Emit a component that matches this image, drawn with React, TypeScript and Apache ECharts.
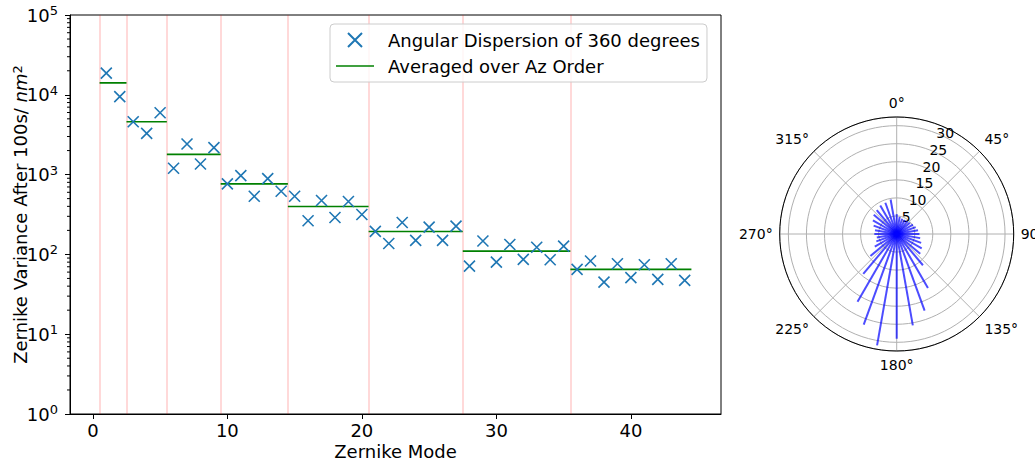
import React, { useEffect, useRef } from 'react';
import * as echarts from 'echarts';

// ---- Main chart data ----
const modes = [1, 2, 3, 4, 5, 6, 7, 8, 9, 10, 11, 12, 13, 14, 15, 16, 17, 18, 19, 20, 21, 22, 23, 24, 25, 26, 27, 28, 29, 30, 31, 32, 33, 34, 35, 36, 37, 38, 39, 40, 41, 42, 43, 44];
const variance = [
  18700, 9500,
  4600, 3280, 5960,
  1200, 2417, 1360, 2176,
  766, 972, 535, 891, 618,
  535, 264, 473, 290, 460, 316,
  194, 137, 251, 150, 220, 150, 226,
  71.4, 147, 80, 133, 86.6, 123, 85.7, 127,
  65, 82.6, 45, 76.4, 51.1, 74.3, 48.7, 76.4, 47.3,
];
const orderBounds = [0.5, 2.5, 5.5, 9.5, 14.5, 20.5, 27.5, 35.5, 44.5];
const orderMeans = [14100, 4600, 1790, 765, 398, 194, 110, 65];
const orderLines = [0.5, 2.5, 5.5, 9.5, 14.5, 20.5, 27.5, 35.5];
const xTicks = [0, 10, 20, 30, 40];
const minorMultipliers = [2, 3, 4, 5, 6, 7, 8, 9];
const decades = [1, 10, 100, 1000, 10000];

// ---- Polar chart data ----
const polarAngles = [0, 10, 20, 30, 40, 50, 60, 70, 80, 90, 100, 110, 120, 130, 140, 150, 160, 170, 180, 190, 200, 210, 220, 230, 240, 250, 260, 270, 280, 290, 300, 310, 320, 330, 340, 350];
const polarValues = [5.5, 4.8, 4.5, 4.5, 4.6, 4.8, 5.2, 5.6, 6.0, 6.3, 6.6, 7.2, 8.0, 8.5, 11.3, 17.3, 22.6, 25.7, 29.0, 31.3, 26.7, 21.7, 14.4, 9.5, 7.0, 6.0, 5.6, 6.2, 6.1, 6.8, 7.6, 8.3, 8.6, 9.1, 9.2, 9.7];
const angleTicks = [0, 45, 90, 135, 180, 225, 270, 315];
const radiusTicks = [5, 10, 15, 20, 25, 30];

const SERIES_A = 'Angular Dispersion of 360 degrees';
const SERIES_B = 'Averaged over Az Order';
const FONT = 'DejaVu Sans';
const FS = 18;
const X_MIN = -1.7;
const X_MAX = 46.7;
const R_MAX = 32.4;

export default function App() {
  const ref = useRef<HTMLDivElement>(null);
  useEffect(() => {
    if (!ref.current) return;
    const chart = echarts.init(ref.current, null, { renderer: 'svg' });

    const scatterData = modes.map((m, i) => [m, variance[i]]);
    const meanData: any[] = [];
    orderMeans.forEach((v, i) => {
      meanData.push([orderBounds[i], v]);
      meanData.push([orderBounds[i + 1], v]);
      meanData.push([orderBounds[i + 1], '-']);
    });
    const minorTicks: number[] = [];
    decades.forEach((d) => minorMultipliers.forEach((m) => minorTicks.push(d * m)));

    const option: any = {
      animation: false,
      textStyle: { fontFamily: FONT },
      grid: {
        left: 70, top: 15, width: 651, height: 399,
        containLabel: false,
        outerBoundsMode: 'none',
        show: true, borderColor: '#000', borderWidth: 1, backgroundColor: 'transparent',
      },
      legend: {
        data: [
          { name: SERIES_A },
          { name: SERIES_B, icon: 'path://M0,0H38V1.6H0Z', itemStyle: { color: '#008000', borderWidth: 0 } },
        ],
        orient: 'vertical',
        left: 330, top: 24,
        itemWidth: 38, itemHeight: 14, itemGap: 6,
        padding: [6, 7, 6, 6],
        borderColor: '#cccccc', borderWidth: 1, borderRadius: 4,
        backgroundColor: 'rgba(255,255,255,0.8)',
        textStyle: { fontSize: FS, color: '#000', fontFamily: FONT, padding: [0, 0, 0, 9], lineHeight: 20 },
      },
      xAxis: {
        type: 'value', min: X_MIN, max: X_MAX,
        name: 'Zernike Mode', nameLocation: 'middle', nameGap: 27, nameMoveOverlap: false,
        nameTextStyle: { fontSize: FS, color: '#000', fontFamily: FONT, verticalAlign: 'top', lineHeight: 20 },
        axisLine: { show: true, onZero: false, lineStyle: { color: '#000' } },
        axisTick: { show: true, customValues: xTicks, length: 5, lineStyle: { color: '#000' } },
        axisLabel: { customValues: xTicks, fontSize: FS, color: '#000', margin: 6, fontFamily: FONT, lineHeight: 20 },
        splitLine: { show: false },
      },
      yAxis: {
        type: 'log', logBase: 10, min: 1, max: 100000,
        name: 'Zernike Variance After 100s/ {i|nm}{s|2}',
        nameLocation: 'middle', nameGap: 41, nameRotate: 90, nameMoveOverlap: false,
        nameTextStyle: {
          fontSize: FS, color: '#000', fontFamily: FONT,
          rich: {
            i: { fontSize: FS, fontStyle: 'italic', color: '#000', fontFamily: FONT },
            s: { fontSize: 13, color: '#000', verticalAlign: 'top', fontFamily: FONT },
          },
        },
        axisLine: { show: true, onZero: false, lineStyle: { color: '#000' } },
        axisTick: { show: true, length: 5, lineStyle: { color: '#000' } },
        axisLabel: {
          margin: 12,
          formatter: (v: number) => `{b|10}{s|${Math.round(Math.log10(v))}}`,
          rich: {
            b: { fontSize: FS, color: '#000', fontFamily: FONT, lineHeight: 22 },
            s: { fontSize: 13, color: '#000', fontFamily: FONT, verticalAlign: 'top', lineHeight: 12 },
          },
        },
        splitLine: { show: false },
      },
      polar: [
        { center: [896.7, 234], radius: 117 },
        { center: [896.7, 234], radius: 117 },
      ],
      angleAxis: [
        {
          polarIndex: 0, type: 'value', min: 0, max: 360, interval: 45,
          startAngle: 90, clockwise: true,
          axisLine: { show: true, lineStyle: { color: '#000', width: 1 } },
          axisTick: { show: false },
          axisLabel: {
            show: true, fontSize: 14, color: '#000', margin: 7, fontFamily: FONT,
            formatter: (v: number) => (angleTicks.indexOf(v) >= 0 ? `${v}°` : ''),
          },
          splitLine: { show: true, lineStyle: { color: '#b0b0b0', width: 1 } },
        },
        {
          polarIndex: 1, type: 'value', min: 0, max: 360,
          startAngle: 67.5, clockwise: true,
          axisLine: { show: false }, axisTick: { show: false },
          axisLabel: { show: false }, splitLine: { show: false },
        },
      ],
      radiusAxis: [
        {
          polarIndex: 0, type: 'value', min: 0, max: R_MAX, interval: 5,
          axisLine: { show: false }, axisTick: { show: false }, axisLabel: { show: false },
          splitLine: { show: true, lineStyle: { color: '#b0b0b0', width: 1 } },
        },
        {
          polarIndex: 1, type: 'value', min: 0, max: R_MAX, interval: 5,
          axisLine: { show: false }, axisTick: { show: false },
          splitLine: { show: false },
          axisLabel: {
            show: true, fontSize: 14, color: '#000', fontFamily: FONT, margin: 2,
            align: 'left', verticalAlign: 'middle',
            formatter: (v: number) => (radiusTicks.indexOf(v) >= 0 ? String(v) : ''),
          },
        },
      ],
      series: [
        {
          name: SERIES_A,
          type: 'scatter',
          xAxisIndex: 0, yAxisIndex: 0,
          data: scatterData,
          symbol: 'path://M0,0L10,10M10,0L0,10',
          symbolSize: 11,
          itemStyle: { color: 'transparent', borderColor: '#1f77b4', borderWidth: 1.6, opacity: 1 },
          z: 4,
          markLine: {
            silent: true,
            symbol: ['none', 'none'],
            label: { show: false },
            lineStyle: { color: 'rgba(255,0,0,0.2)', width: 1.5, type: 'solid' },
            data: orderLines.map((x) => ({ xAxis: x })),
            z: 1,
          },
        },
        {
          name: SERIES_B,
          type: 'line',
          xAxisIndex: 0, yAxisIndex: 0,
          data: meanData,
          symbol: 'none',
          connectNulls: false,
          lineStyle: { color: '#008000', width: 1.6 },
          itemStyle: { color: '#008000' },
          z: 3,
        },
        {
          name: 'minor',
          type: 'custom',
          xAxisIndex: 0, yAxisIndex: 0,
          silent: true,
          clip: false,
          data: minorTicks.map((v) => [X_MIN, v]),
          renderItem: (_p: any, api: any) => {
            const c = api.coord([api.value(0), api.value(1)]);
            return {
              type: 'line',
              shape: { x1: c[0] - 3, y1: c[1], x2: c[0], y2: c[1] },
              style: { stroke: '#000', lineWidth: 1 },
            };
          },
        },
        {
          name: 'polarBars',
          type: 'custom',
          coordinateSystem: 'polar',
          polarIndex: 0,
          silent: true,
          data: polarAngles.map((a, i) => [polarValues[i], a]),
          renderItem: (_p: any, api: any) => {
            const r = api.value(0);
            const a = api.value(1);
            const p0 = api.coord([0, a]);
            const p1 = api.coord([r, a]);
            return {
              type: 'line',
              shape: { x1: p0[0], y1: p0[1], x2: p1[0], y2: p1[1] },
              style: { stroke: 'rgba(0,0,255,0.7)', lineWidth: 2 },
            };
          },
          z: 5,
        },
      ],
    };
    chart.setOption(option);
    return () => chart.dispose();
  }, []);
  return (
    <div
      ref={ref}
      style={{ position: 'fixed', left: 0, top: 0, width: 1035, height: 461, background: '#fff' }}
    />
  );
}
